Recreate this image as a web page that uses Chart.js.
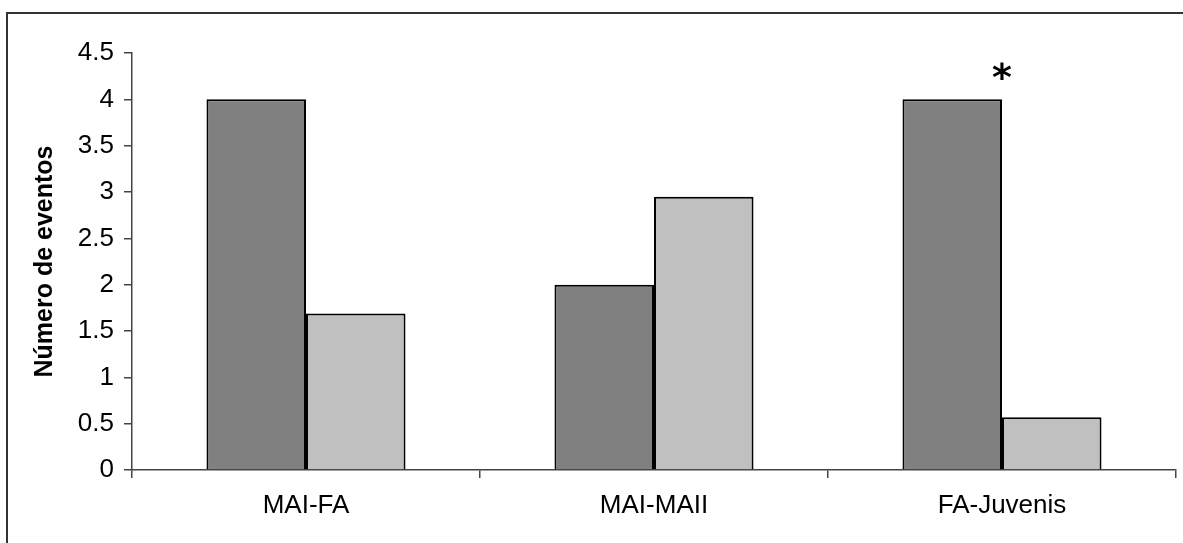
<!DOCTYPE html>
<html>
<head>
<meta charset="utf-8">
<script src="https://cdn.jsdelivr.net/npm/chart.js@4"></script>
<style>
  html, body { margin: 0; padding: 0; background: #fff; }
  #wrap { width: 1183px; height: 543px; }
</style>
</head>
<body>
<div id="wrap"><canvas id="chartBar"></canvas></div>
<script>
// grupos comparados
var categorias = ['MAI-FA', 'MAI-MAII', 'FA-Juvenis'];
// número de eventos por série
var serieEscura = [4, 2, 4];
var serieClara = [1.69, 2.95, 0.57];
// marcas de significância sobre cada grupo
var marcas = ['', '', '*'];
var yMin = 0, yMax = 4.5, yPasso = 0.5;

var fonte = 'Arial, "Liberation Sans", sans-serif';

// moldura (linhas superior e esquerda) + asterisco
var extras = {
  id: 'extras',
  beforeDraw: function (chart) {
    var ctx = chart.ctx;
    ctx.save();
    ctx.fillStyle = '#fff';
    ctx.fillRect(0, 0, chart.width, chart.height);
    ctx.strokeStyle = '#333';
    ctx.lineWidth = 2;
    ctx.beginPath();
    ctx.moveTo(7, chart.height);
    ctx.lineTo(7, 13);
    ctx.lineTo(chart.width, 13);
    ctx.stroke();
    ctx.restore();
  },
  afterDatasetsDraw: function (chart) {
    var ctx = chart.ctx;
    var x = chart.scales.x, y = chart.scales.y;
    ctx.save();
    ctx.fillStyle = '#000';
    ctx.font = 'bold 38px "DejaVu Sans", sans-serif';
    ctx.textAlign = 'center';
    ctx.textBaseline = 'alphabetic';
    marcas.forEach(function (m, i) {
      if (!m) return;
      var topo = Math.max(serieEscura[i], serieClara[i]);
      var cy = y.getPixelForValue(topo) - 28;
      var mt = ctx.measureText(m);
      var base = cy + (mt.actualBoundingBoxAscent - mt.actualBoundingBoxDescent) / 2;
      ctx.fillText(m, x.getPixelForValue(i), base);
    });
    ctx.restore();
  }
};

var dataBar = {
  labels: categorias,
  datasets: [
    {
      label: 'Série 1',
      data: serieEscura,
      backgroundColor: '#808080',
      borderColor: '#000',
      borderWidth: 2,
      categoryPercentage: 0.572,
      barPercentage: 1.0,
    },
    {
      label: 'Série 2',
      data: serieClara,
      backgroundColor: '#c0c0c0',
      borderColor: '#000',
      borderWidth: 2,
      categoryPercentage: 0.572,
      barPercentage: 1.0,
    },
  ],
};

var configBar = {
  type: 'bar',
  data: dataBar,
  plugins: [extras],
  options: {
    responsive: true,
    maintainAspectRatio: false,
    animation: false,
    events: [],
    layout: { padding: { left: 0, top: 53, right: 7, bottom: 0 } },
    plugins: {
      legend: { display: false },
      tooltip: { enabled: false },
    },
    scales: {
      x: {
        grid: {
          offset: true,
          drawOnChartArea: false,
          drawTicks: true,
          tickLength: 8,
          color: '#444',
          lineWidth: 1.5,
        },
        border: { color: '#444', width: 1.5 },
        ticks: {
          color: '#000',
          font: { family: fonte, size: 26 },
          padding: 12,
        },
        afterFit: function (scale) { scale.height = 73; },
      },
      y: {
        min: yMin,
        max: yMax,
        grid: {
          drawOnChartArea: false,
          drawTicks: true,
          tickLength: 8,
          color: '#444',
          lineWidth: 1.5,
        },
        border: { color: '#444', width: 1.5 },
        ticks: {
          stepSize: yPasso,
          color: '#000',
          font: { family: fonte, size: 26 },
          padding: 10,
          callback: function (v) { return String(v); },
        },
        title: {
          display: true,
          text: 'Número de eventos',
          color: '#000',
          font: { family: fonte, size: 25, weight: 'bold' },
          padding: { top: 30, bottom: 0 },
        },
        afterFit: function (scale) { scale.width = 132; },
      },
    },
  },
};

var chartBar = new Chart(document.getElementById('chartBar'), configBar);
</script>
</body>
</html>
